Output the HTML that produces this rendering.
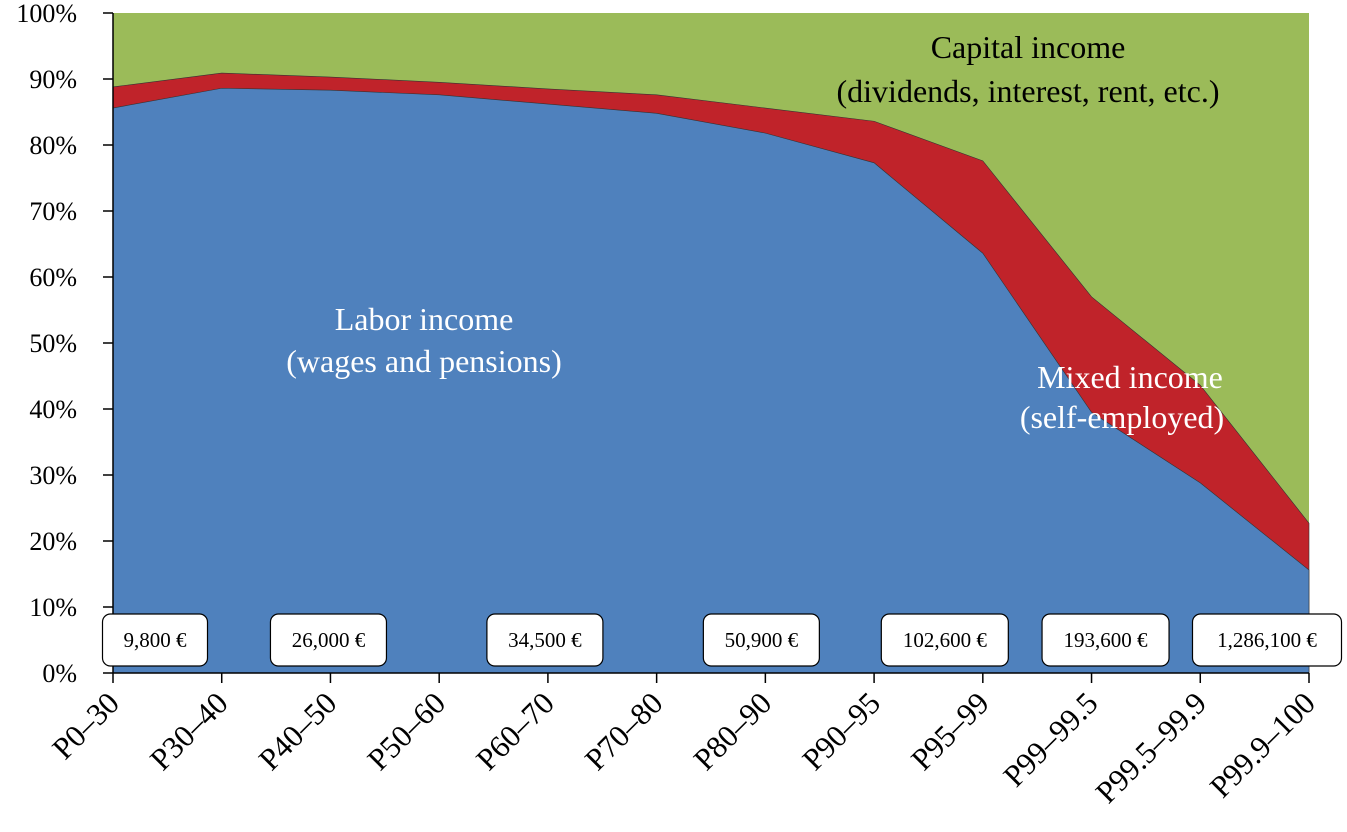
<!DOCTYPE html>
<html><head><meta charset="utf-8"><style>
body{margin:0;background:#fff;}
svg{display:block;font-family:"Liberation Serif",serif;}
</style></head><body>
<svg id="chart" width="1347" height="832"></svg>
<script>
const categories=["P0–30","P30–40","P40–50","P50–60","P60–70","P70–80","P80–90","P90–95","P95–99","P99–99.5","P99.5–99.9","P99.9–100"];
const laborShare=[85.6,88.6,88.3,87.6,86.2,84.8,81.8,77.3,63.6,39.5,28.8,15.6];
const mixedShare=[3.2,2.3,2.0,1.9,2.3,2.8,3.8,6.3,14.0,17.5,14.8,7.1];
const yTicks=[0,10,20,30,40,50,60,70,80,90,100];
const incomeLabels=[{i:0,t:"9,800 €"},{i:2,t:"26,000 €"},{i:4,t:"34,500 €"},{i:6,t:"50,900 €"},{i:8,t:"102,600 €"},{i:9,t:"193,600 €"},{i:11,t:"1,286,100 €"}];
const boxX=[{i:0,dx:42},{i:2,dx:-2},{i:4,dx:-3},{i:6,dx:-4},{i:8,dx:-38},{i:9,dx:14},{i:11,dx:-42}];

const NS="http://www.w3.org/2000/svg";
const svg=document.getElementById("chart");
const x0=113,x1=1309,yb=673,yt=13;
const xs=i=>x0+(x1-x0)*i/(categories.length-1);
const ys=v=>yb-(yb-yt)*v/100;
function mk(tag,attrs,parent){const e=document.createElementNS(NS,tag);for(const k in attrs)e.setAttribute(k,attrs[k]);(parent||svg).appendChild(e);return e;}

const cap=mk("rect",{x:x0,y:yt,width:x1-x0,height:yb-yt,fill:"#9bbb59"});


const top2=laborShare.map((v,i)=>v+mixedShare[i]);
let d="M"+xs(0)+","+yb;
top2.forEach((v,i)=>d+=" L"+xs(i)+","+ys(v));
d+=" L"+xs(categories.length-1)+","+yb+" Z";
const mix=mk("path",{d:d,fill:"#c0232a",stroke:"#333","stroke-width":0.6});


d="M"+xs(0)+","+yb;
laborShare.forEach((v,i)=>d+=" L"+xs(i)+","+ys(v));
d+=" L"+xs(categories.length-1)+","+yb+" Z";
const lab=mk("path",{d:d,fill:"#4f81bd",stroke:"#333","stroke-width":0.6});



const ya=mk("line",{x1:x0,y1:yt,x2:x0,y2:yb,stroke:"#000","stroke-width":1.5});


const xa=mk("line",{x1:x0,y1:yb,x2:x1,y2:yb,stroke:"#000","stroke-width":1.5});


yTicks.forEach(v=>{
  const t=mk("line",{x1:x0-10,y1:ys(v),x2:x0,y2:ys(v),stroke:"#000","stroke-width":1.5});
  
  
  const l=mk("text",{x:x0-36,y:ys(v)+9,"text-anchor":"end","font-size":26});
  l.textContent=v+"%";
  
  
});
categories.forEach((c,i)=>{
  const t=mk("line",{x1:xs(i),y1:yb,x2:xs(i),y2:yb+10,stroke:"#000","stroke-width":1.5});
  
  
  const l=mk("text",{x:xs(i)+8,y:yb+32,"text-anchor":"end","font-size":31,transform:"rotate(-45 "+(xs(i)+8)+" "+(yb+32)+")"});
  l.textContent=c;
  
  
});
incomeLabels.forEach((o,k)=>{
  const cx=xs(o.i)+boxX[k].dx;
  const w=o.t.length*11+28;
  const g=mk("g",{});
  
  
  mk("rect",{x:cx-w/2,y:614,width:w,height:52,rx:8,fill:"#fff",stroke:"#000","stroke-width":1.2},g);
  const tx=mk("text",{x:cx,y:647,"text-anchor":"middle","font-size":21},g);
  tx.textContent=o.t;
});
function txt(x,y,s,fill,name){const t=mk("text",{x:x,y:y,"text-anchor":"middle","font-size":32,fill:fill});t.textContent=s;}
txt(424,330,"Labor income","#fff","labor-label-line1");
txt(424,372,"(wages and pensions)","#fff","labor-label-line2");
txt(1028,58,"Capital income","#000","capital-label-line1");
txt(1028,102,"(dividends, interest, rent, etc.)","#000","capital-label-line2");
txt(1130,388,"Mixed income","#fff","mixed-label-line1");
txt(1122,428,"(self-employed)","#fff","mixed-label-line2");
</script>
</body></html>
